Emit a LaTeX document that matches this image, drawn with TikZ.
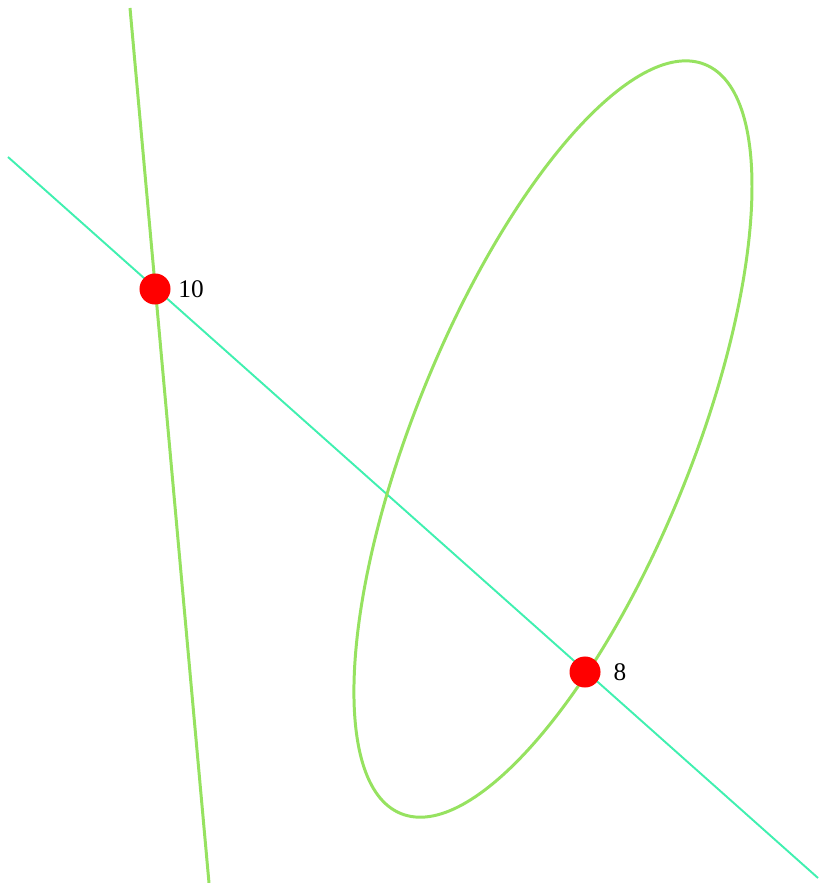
\documentclass[tikz,border=0pt]{standalone}
\usepackage{fontspec}
\setmainfont{Liberation Serif}
\usetikzlibrary{positioning}

\definecolor{curvegreen}{RGB}{150,226,96}
\definecolor{linecyan}{RGB}{64,240,176}

\tikzset{
    greenline/.style = {line width = 0.85pt, curvegreen},
    cyanline/.style = {line width = 0.55pt, linecyan},
    dot/.style = {circle, fill=red, inner sep=0pt, minimum size=0.31cm},
    lbl/.style = {inner sep=0pt, font=\fontsize{7.2}{9}\selectfont}
}

\begin{document}
\begin{tikzpicture}[x=0.01cm, y=-0.01cm]
    \useasboundingbox (0,0) rectangle (818,883);
    \coordinate (g1) at (130,8);
    \coordinate (g2) at (209,883);
    \coordinate (c1) at (8,157);
    \coordinate (c2) at (818,878);
    \coordinate (E) at (553,439);
    % draw lines
    \draw[greenline] (g1) -- (g2);
    \draw[cyanline] (c1) -- (c2);
    % draw ellipse
    \draw[greenline, rotate around={67.9:(E)}] (E) ellipse (4.04cm and 1.385cm);
    % points
    \node[dot] (p10) at (155,289) {};
    \node[dot] (p8) at (585,672) {};
    \node[lbl] (l10) at ([xshift=0.36cm]p10.center) {10};
    \node[lbl] (l8) at ([xshift=0.35cm]p8.center) {8};
\end{tikzpicture}
\end{document}
